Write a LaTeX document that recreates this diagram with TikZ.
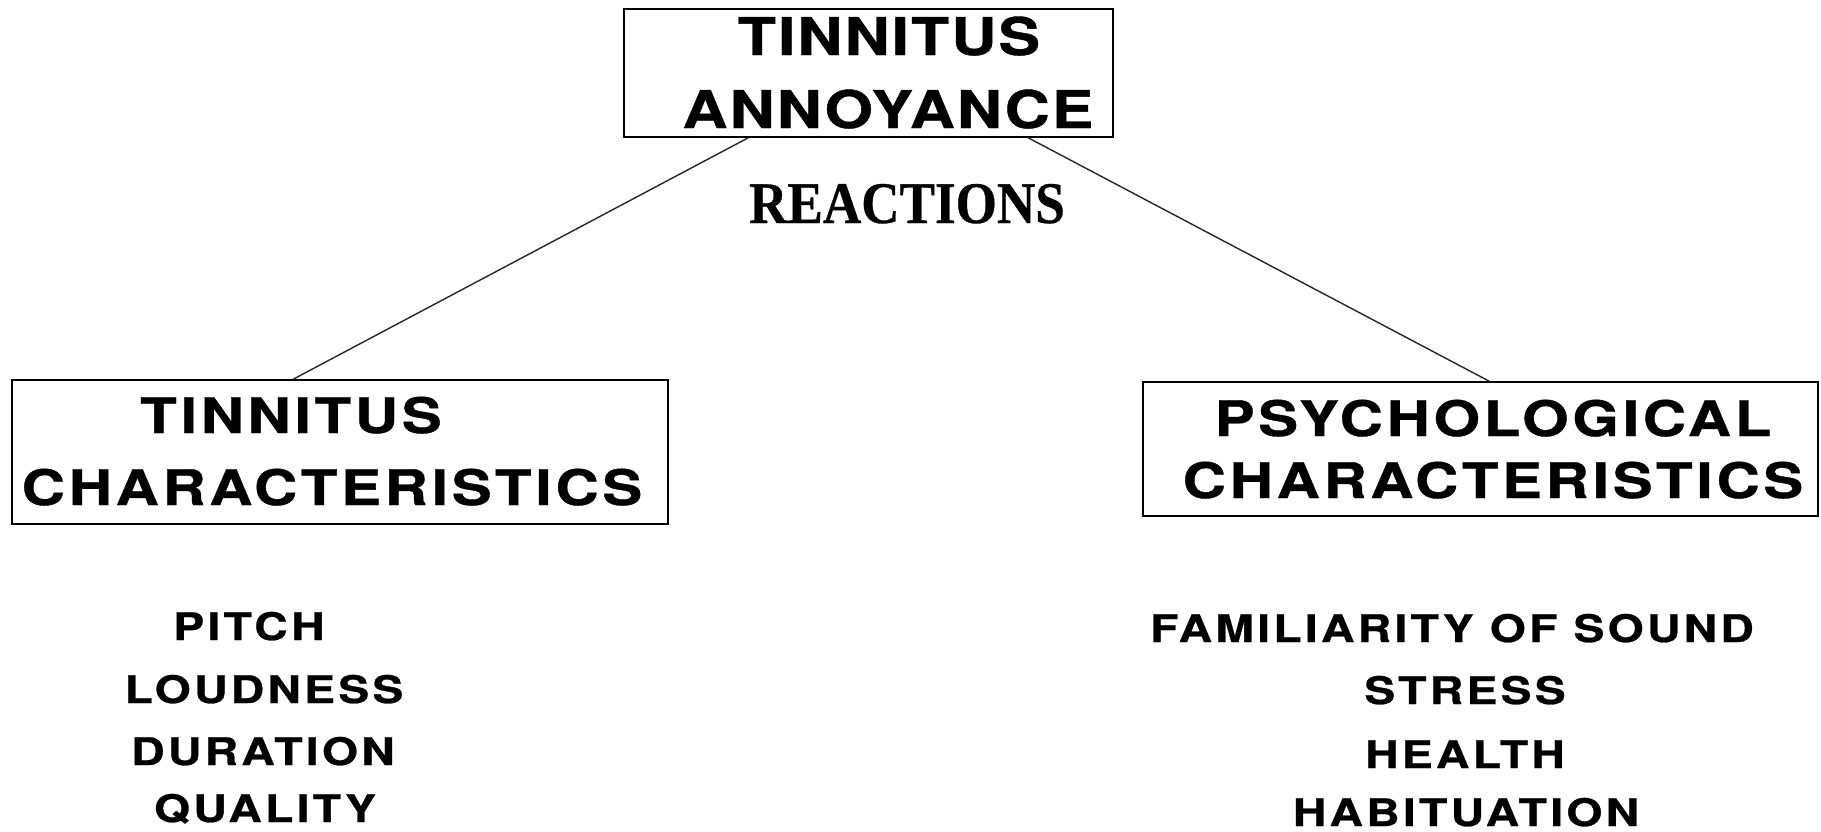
\documentclass[tikz,border=0pt]{standalone}
\usepackage{fontspec}
\setmainfont{TeX Gyre Heros}
% wide, slightly spaced sans capitals used for the box titles and the lists
\newfontfamily\topcaps[FakeStretch=1.2, LetterSpace=4, FakeBold=0.8]{TeX Gyre Heros}
\newfontfamily\boxcaps[FakeStretch=1.22, LetterSpace=7.5, FakeBold=0.8]{TeX Gyre Heros}
\newfontfamily\listcaps[FakeStretch=1.22, LetterSpace=8.5, FakeBold=0.7]{TeX Gyre Heros}
\newfontfamily\reactfont[FakeStretch=0.9, FakeBold=0.5]{Liberation Serif}

\tikzset{
  framebox/.style={draw=black, line width=1.6pt, inner sep=0pt, fill=none},
  conn/.style={draw=black!85, line width=1.4pt},
  label/.style={inner sep=0pt, anchor=base, text=black},
  toplabel/.style={label, font={\topcaps\bfseries\fontsize{52}{60}\selectfont}},
  boxlabel/.style={label, font={\boxcaps\bfseries\fontsize{49}{56}\selectfont}},
  listitem/.style={label, font={\listcaps\bfseries\fontsize{38}{44}\selectfont}},
  reactlabel/.style={label, font={\reactfont\bfseries\fontsize{59}{64}\selectfont}}
}

\begin{document}
\begin{tikzpicture}[x=1pt, y=-1pt]
  \useasboundingbox[fill=white] (0,0) rectangle (1821,831);

  % frames
  \node[framebox, minimum width=489pt, minimum height=128pt] (top) at (868.5,73) {};
  \node[framebox, minimum width=656pt, minimum height=144pt] (left) at (340,452) {};
  \node[framebox, minimum width=675pt, minimum height=134pt] (right) at (1480.5,449) {};

  % connectors
  \draw[conn] ([xshift=125pt]top.south west) -- ([xshift=282pt]left.north west);
  \draw[conn] ([xshift=405pt]top.south west) -- ([xshift=347pt]right.north west);

  % top frame text
  \node[toplabel] (annoy1) at (889,55) {TINNITUS};
  \node[toplabel] (annoy2) at (888,128) {ANNOYANCE};
  \node[reactlabel] (react) at (907,223) {REACTIONS};

  % left frame text
  \node[boxlabel] (tin1) at (291,433) {TINNITUS};
  \node[boxlabel] (tin2) at (332,505) {CHARACTERISTICS};

  % right frame text
  \node[boxlabel] (psy1) at (1493,436) {PSYCHOLOGICAL};
  \node[boxlabel] (psy2) at (1493,498) {CHARACTERISTICS};

  % tinnitus factors
  \node[listitem] (pitch) at (249,640) {PITCH};
  \node[listitem] (loud) at (264,703) {LOUDNESS};
  \node[listitem] (dur) at (263,765) {DURATION};
  \node[listitem] (qual) at (265,822) {QUALITY};

  % psychological factors
  \node[listitem] (fam) at (1452,642) {FAMILIARITY OF SOUND};
  \node[listitem] (stress) at (1465,704) {STRESS};
  \node[listitem] (health) at (1465,768) {HEALTH};
  \node[listitem] (habit) at (1466,826) {HABITUATION};
\end{tikzpicture}
\end{document}
